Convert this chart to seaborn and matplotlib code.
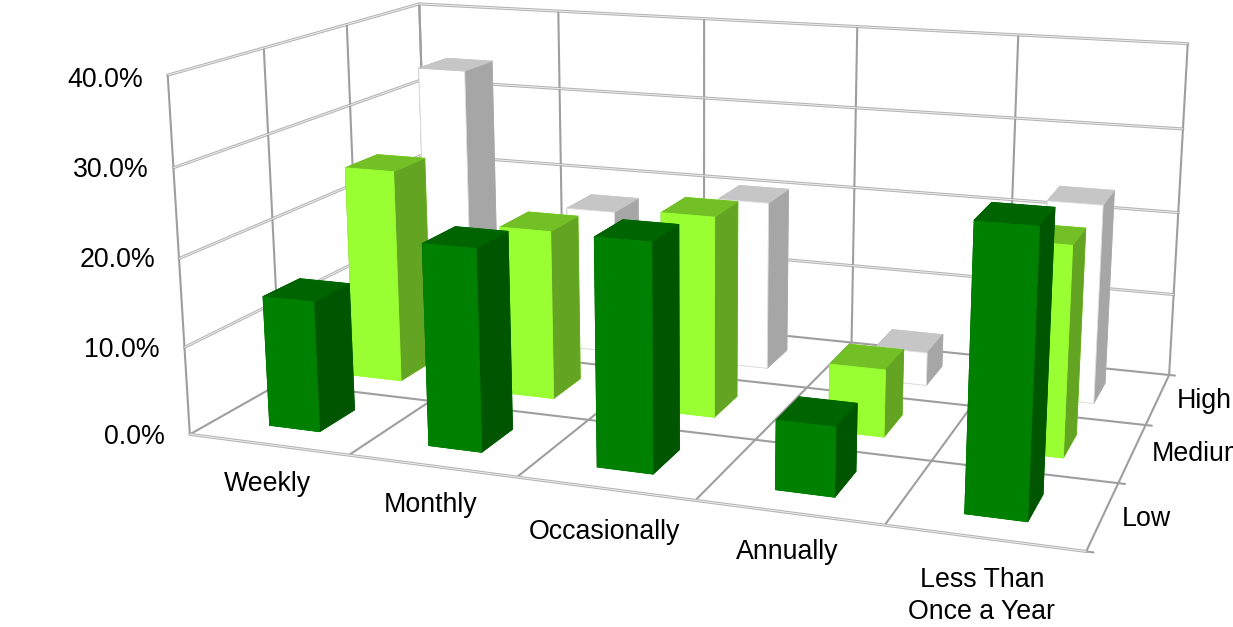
import numpy as np
import pandas as pd
import matplotlib
matplotlib.use("Agg")
import matplotlib.pyplot as plt
import seaborn as sns

# Purchase frequency by engagement level, in percent
frequencies = ["Weekly", "Monthly", "Occasionally", "Annually", "Less Than\nOnce a Year"]
levels = ["Low", "Medium", "High"]
low_values = [14.9, 22.6, 25.0, 7.5, 30.0]
medium_values = [25.4, 19.9, 23.2, 7.7, 23.4]
high_values = [34.1, 17.8, 20.5, 4.0, 23.4]
z_ticks = [0, 10, 20, 30, 40]

# (front, top, side) face colours for each level
level_faces = {
    "Low": sns.color_palette(["#008000", "#006400", "#005500"]),
    "Medium": sns.color_palette(["#99FF33", "#73C026", "#63A523"]),
    "High": sns.color_palette(["#FFFFFF", "#C6C6C6", "#A6A6A6"]),
}

table = pd.DataFrame({"Low": low_values, "Medium": medium_values, "High": high_values},
                     index=frequencies)

sns.set_theme(style="white")
plt.rcParams["font.family"] = ["Liberation Sans", "DejaVu Sans"]

W, H = 1233, 627
FONT = 19.3
fig = plt.figure(figsize=(W / 100, H / 100), dpi=100, facecolor="white")
ax = fig.add_subplot(projection="3d", computed_zorder=False)
ax.set_axis_off()
ax.patch.set_alpha(0)

ax.set_xlim(0, 5)
ax.set_ylim(0, 3)
ax.set_zlim(0, 40)
ax.view_init(elev=14.0627, azim=-70.2856)
ax.set_proj_type("persp", focal_length=0.3766)
ax.set_box_aspect((np.exp(0.9018), np.exp(0.3703), 1.0))

# Square axes sized so the 3D box fills the canvas
scale, cx, cy = 5643.5, 700.18, 627 - 234.56
v = ax.viewLim
side = scale * v.width
left = cx + scale * v.x0
bottom = cy + scale * v.y0
ax.set_position([left / W, bottom / H, side / W, side / H])


def solid(xs, ys, zs):
    ax.plot(xs, ys, zs, color="#9e9e9e", lw=1.5, zorder=1, solid_capstyle="round")


def double(xs, ys, zs):
    # Hollow rule: a pale line with a lighter core
    ax.plot(xs, ys, zs, color="#b4b4b4", lw=2.2, zorder=1, solid_capstyle="round")
    ax.plot(xs, ys, zs, color="#eeeeee", lw=0.7, zorder=1.1, solid_capstyle="round")


n_x, n_y = len(frequencies), len(levels)
for z in z_ticks[1:]:
    double([0, 0], [0, n_y], [z, z])
    double([0, n_x], [n_y, n_y], [z, z])
for i in range(n_x + 1):
    solid([i, i], [0, n_y], [0, 0])
    solid([i, i], [n_y, n_y], [0, 40])
for j in range(1, n_y + 1):
    solid([0, n_x + 0.035], [j, j], [0, 0])
for j in range(n_y + 1):
    solid([0, 0], [j, j], [0, 40])
double([0, n_x], [0, 0], [0, 0])
solid([n_x, n_x + 0.035], [0, 0], [0, 0])

# Bars go back to front so nearer rows cover the ones behind
BAR_W, BAR_D = 0.32, 0.41
order = 2
for j, level in reversed(list(enumerate(levels))):
    front, top, side_face = level_faces[level]
    faces = [front, top, front, front, side_face, side_face]
    edges = ["#dcdcdc" if level == "High" and c == front else c for c in faces]
    for i, name in enumerate(frequencies):
        ax.bar3d(i + 0.34, j + 0.29, 0, BAR_W, BAR_D, table.loc[name, level],
                 color=faces, edgecolor=edges, linewidth=0.6, shade=False, zorder=order)
        order += 1


def label(px, py, text, **kw):
    ax.text2D(px / W, 1 - py / H, text, transform=fig.transFigure, fontsize=FONT,
              color="black", va="center", **kw)


for value, py, right in zip(z_ticks, [437, 350, 260, 170, 80], [165, 160, 155, 149, 143]):
    label(right, py, f"{value:.1f}%", ha="right")

for name, px, py in zip(frequencies, [267, 431, 604, 787, 982], [484, 505, 532, 552, 596]):
    label(px, py, name, ha="center", linespacing=1.28, multialignment="center")

for level, px, py in zip(levels, [1122, 1152, 1177], [519, 454, 401]):
    label(px, py, level, ha="left")

fig.savefig("out.png", dpi=100, facecolor="white")
